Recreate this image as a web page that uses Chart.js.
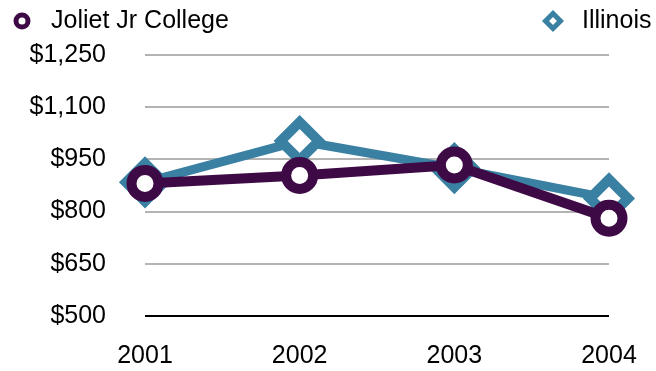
<!DOCTYPE html>
<html>
<head>
<meta charset="utf-8">
<script src="https://cdn.jsdelivr.net/npm/chart.js@4"></script>
<style>
  html, body { margin: 0; padding: 0; background: #fff; }
  #wrap { width: 656px; height: 371px; position: relative; }
</style>
</head>
<body>
<div id="wrap"><canvas id="tuitionChart"></canvas></div>
<script>
const years = ['2001', '2002', '2003', '2004'];
const jolietValues = [881, 904, 934, 781];
const illinoisValues = [884, 1003, 925, 838];
const yTicks = [500, 650, 800, 950, 1100, 1250];

const jolietColor = '#3e0a46';
const illinoisColor = '#3a80a2';
const fontFamily = '"Liberation Sans", Arial, Helvetica, sans-serif';

// legend split to both corners of the top strip
const cornerLegend = {
    id: 'cornerLegend',
    afterDraw(chart) {
        const ctx = chart.ctx;
        const byLabel = {};
        chart.data.datasets.forEach(ds => { byLabel[ds.label] = ds; });
        const items = [
            { ds: byLabel['Joliet Jr College'], markX: 22, textX: 51 },
            { ds: byLabel['Illinois'], markX: 553, textX: 582 }
        ];
        ctx.save();
        ctx.font = '25px ' + fontFamily;
        ctx.textBaseline = 'middle';
        ctx.textAlign = 'left';
        items.forEach(item => {
            const y = 21;
            ctx.lineWidth = 5;
            ctx.strokeStyle = item.ds.borderColor;
            ctx.fillStyle = '#fff';
            ctx.beginPath();
            if (item.ds.pointStyle === 'rectRot') {
                const r = 7.5;
                ctx.moveTo(item.markX - r, y);
                ctx.lineTo(item.markX, y - r);
                ctx.lineTo(item.markX + r, y);
                ctx.lineTo(item.markX, y + r);
                ctx.closePath();
            } else {
                ctx.arc(item.markX, y, 6, 0, Math.PI * 2);
            }
            ctx.fill();
            ctx.stroke();
            ctx.fillStyle = '#000';
            ctx.fillText(item.ds.label, item.textX, y);
        });
        ctx.restore();
    }
};

const ctx = document.getElementById('tuitionChart').getContext('2d');
new Chart(ctx, {
    type: 'line',
    data: {
        labels: years,
        datasets: [
            {
                label: 'Illinois',
                data: illinoisValues,
                borderColor: illinoisColor,
                backgroundColor: '#fff',
                borderWidth: 9,
                pointStyle: 'rectRot',
                pointRadius: 19,
                pointBorderWidth: 10,
                pointBackgroundColor: '#fff',
                pointBorderColor: illinoisColor,
                tension: 0,
                order: 2
            },
            {
                label: 'Joliet Jr College',
                data: jolietValues,
                borderColor: jolietColor,
                backgroundColor: '#fff',
                borderWidth: 10,
                pointStyle: 'circle',
                pointRadius: 13.5,
                pointBorderWidth: 10,
                pointBackgroundColor: '#fff',
                pointBorderColor: jolietColor,
                tension: 0,
                order: 1
            }
        ]
    },
    options: {
        responsive: true,
        maintainAspectRatio: false,
        animation: false,
        layout: { padding: { top: 55, right: 47, left: 0, bottom: 0 } },
        scales: {
            x: {
                offset: false,
                afterFit: scale => {
                    scale.height = 55;
                    scale.paddingLeft = 0;
                    scale.paddingRight = 0;
                },
                grid: { display: false, drawTicks: false },
                border: { display: false },
                ticks: {
                    color: '#000',
                    padding: 25,
                    maxRotation: 0,
                    font: { family: fontFamily, size: 25 }
                }
            },
            y: {
                min: 500,
                max: 1250,
                afterBuildTicks: scale => {
                    scale.ticks = yTicks.map(v => ({ value: v }));
                },
                afterFit: scale => {
                    scale.width = 145;
                    scale.paddingTop = 0;
                    scale.paddingBottom = 0;
                },
                grid: {
                    drawTicks: false,
                    lineWidth: 2,
                    color: c => c.tick && c.tick.value === 500 ? '#000' : '#b3b3b3'
                },
                border: { display: false },
                ticks: {
                    color: '#000',
                    padding: 39,
                    font: { family: fontFamily, size: 25 },
                    callback: value => '$' + value.toLocaleString('en-US')
                }
            }
        },
        plugins: {
            legend: { display: false },
            tooltip: { enabled: false }
        }
    },
    plugins: [cornerLegend]
});
</script>
</body>
</html>
